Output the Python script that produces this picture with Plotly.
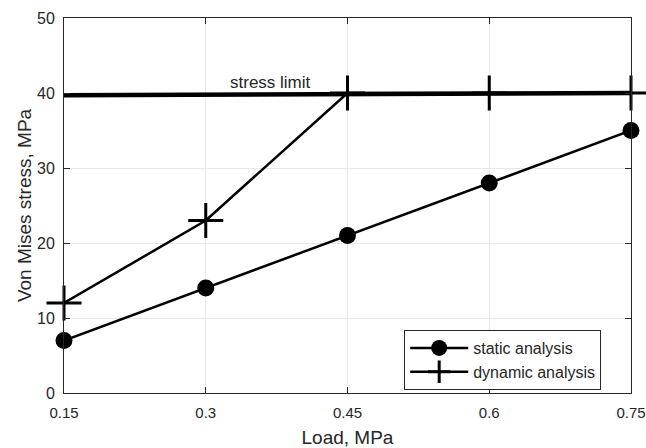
import plotly.graph_objects as go

load = [0.15, 0.3, 0.45, 0.6, 0.75]
static_vals = [7, 14, 21, 28, 35]
dynamic_vals = [12, 23, 40, 40, 40]
limit_x = [0.15, 0.75]
limit_y = [39.7, 40]
x_ticks = [0.15, 0.3, 0.45, 0.6, 0.75]
x_tick_labels = ["0.15", "0.3", "0.45", "0.6", "0.75"]
y_ticks = [0, 10, 20, 30, 40, 50]

FONT = "Liberation Sans, Arial"
TXT = "#262626"

fig = go.Figure()
fig.add_trace(go.Scatter(x=limit_x, y=limit_y, mode="lines", line=dict(color="black", width=4.5),
                         showlegend=False, hoverinfo="skip", cliponaxis=False))
fig.add_trace(go.Scatter(x=load, y=static_vals, mode="lines+markers", name="static analysis",
                         line=dict(color="black", width=2.5), cliponaxis=False,
                         marker=dict(symbol="circle", size=17, color="black")))
fig.add_trace(go.Scatter(x=load, y=dynamic_vals, mode="lines+markers", name="dynamic analysis",
                         line=dict(color="black", width=2.5), cliponaxis=False,
                         marker=dict(symbol="cross-thin", size=25, line=dict(color="black", width=3))))

fig.add_annotation(x=0.368, y=40, text="stress limit", showarrow=False, yshift=11,
                   font=dict(family=FONT, size=17, color=TXT))

axis_common = dict(showline=True, linecolor=TXT, linewidth=1, mirror="ticks",
                   ticks="inside", ticklen=6, tickcolor=TXT, automargin=False,
                   showgrid=True, gridcolor="#e8e8e8", gridwidth=1, zeroline=False,
                   ticklabeloverflow="allow",
                   title_font=dict(family=FONT, size=19, color=TXT))

fig.update_xaxes(range=[0.15, 0.75], tickvals=x_ticks, ticktext=x_tick_labels,
                 ticklabelstandoff=6, tickfont=dict(family=FONT, size=15, color=TXT),
                 title_text="Load, MPa", title_standoff=10, **axis_common)
fig.update_yaxes(range=[0, 50], tickvals=y_ticks, ticklabelstandoff=5,
                 tickfont=dict(family=FONT, size=16, color=TXT),
                 title_text="Von Mises stress, MPa", title_standoff=0, **axis_common)

fig.update_layout(
    width=646, height=448,
    margin=dict(l=64, r=15, t=18, b=55),
    plot_bgcolor="white", paper_bgcolor="white",
    font=dict(family=FONT, color=TXT),
    legend=dict(x=0.600, y=0.168, xanchor="left", yanchor="top",
                bordercolor=TXT, borderwidth=1, bgcolor="white",
                font=dict(family=FONT, size=16, color=TXT),
                tracegroupgap=0, itemwidth=58),
)

fig.write_html("out.html", config={"displayModeBar": False},
               post_script="document.body.style.margin='0';document.body.style.overflow='hidden';")
